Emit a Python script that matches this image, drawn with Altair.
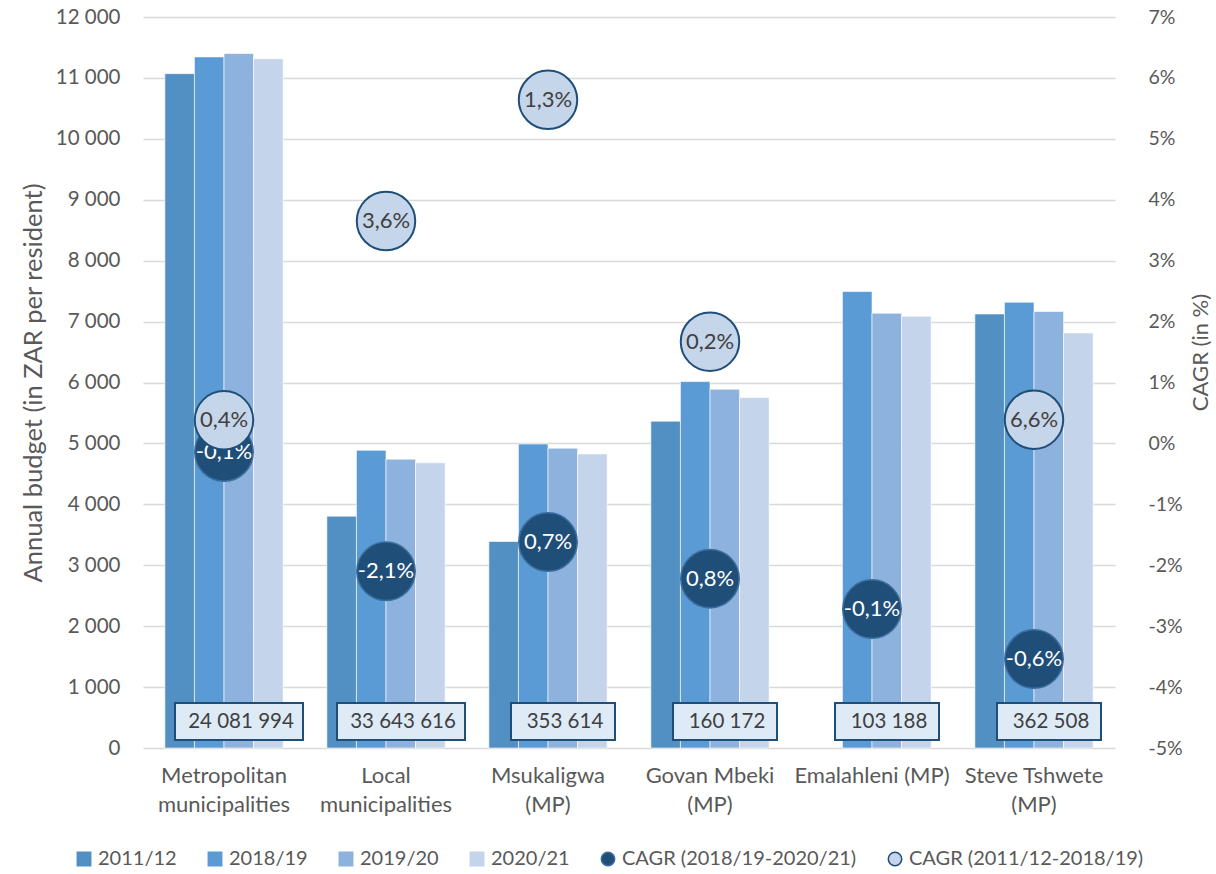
import altair as alt
import pandas as pd

# ---------------- data ----------------
categories = ["Metropolitan|municipalities", "Local|municipalities", "Msukaligwa|(MP)",
              "Govan Mbeki|(MP)", "Emalahleni (MP)", "Steve Tshwete|(MP)"]
years = ["2011/12", "2018/19", "2019/20", "2020/21"]
budget_2011 = [11070, 3805, 3390, 5365, None, 7125]
budget_2018 = [11345, 4888, 4990, 6015, 7493, 7318]
budget_2019 = [11400, 4742, 4922, 5890, 7137, 7165]
budget_2020 = [11315, 4682, 4828, 5752, 7089, 6814]
population = [24081994, 33643616, 353614, 160172, 103188, 362508]

cagr_recent_name = "CAGR (2018/19-2020/21)"
cagr_long_name = "CAGR (2011/12-2018/19)"
cagr_recent_pos = [-0.14, -2.1, -1.62, -2.22, -2.72, -3.54]
cagr_recent_label = ["-0,1%", "-2,1%", "0,7%", "0,8%", "-0,1%", "-0,6%"]
cagr_long_pos = [0.38, 3.65, 5.64, 1.67, None, 0.39]
cagr_long_label = ["0,4%", "3,6%", "1,3%", "0,2%", None, "6,6%"]

series = years + [cagr_recent_name, cagr_long_name]
colors = ["#528FC3", "#5B9BD5", "#8DB2DD", "#C4D4EA", "#1F4E79", "#C5D5EA"]
strokes = ["#528FC3", "#5B9BD5", "#8DB2DD", "#C4D4EA", "#3A6E9E", "#1F4E79"]
shapes = ["square", "square", "square", "square", "circle", "circle"]

# ---------------- tables ----------------
rows = []
for yr, vals in zip(years, [budget_2011, budget_2018, budget_2019, budget_2020]):
    for c, v in zip(categories, vals):
        if v is not None:
            rows.append({"category": c, "series": yr, "value": v})
bars_df = pd.DataFrame(rows)

pop_df = pd.DataFrame({
    "category": categories,
    "pop": population,
    "label": [f"{p:,}".replace(",", " ") for p in population],
    "wide": [len(str(p)) > 6 for p in population],
})

recent_df = pd.DataFrame({"category": categories, "pos": cagr_recent_pos,
                          "label": cagr_recent_label, "series": cagr_recent_name})
long_df = pd.DataFrame({"category": categories, "pos": cagr_long_pos,
                        "label": cagr_long_label, "series": cagr_long_name}).dropna()

FONT = "Lato"
GRAY = "#595959"

x_enc = alt.X("category:N", sort=categories,
              scale=alt.Scale(domain=categories, paddingInner=0.27, paddingOuter=0.135),
              axis=alt.Axis(title=None, labelExpr="split(datum.label, '|')",
                            labelFontSize=22, labelColor=GRAY, labelPadding=17,
                            labelLineHeight=29, labelAngle=0, domain=False, ticks=False,
                            labelFont=FONT, labelLimit=0))

left_axis = alt.Axis(title="Annual budget (in ZAR per resident)",
                     values=list(range(0, 12001, 1000)),
                     labelExpr="replace(format(datum.value, ','), ',', ' ')",
                     grid=True, gridColor="#D9D9D9", gridWidth=1.5,
                     labelFontSize=20.5, labelColor=GRAY, labelPadding=23,
                     titleFontSize=25.5, titleColor=GRAY, titleFontWeight="normal",
                     titlePadding=9, domain=False, ticks=False,
                     labelFont=FONT, titleFont=FONT)
left_scale = alt.Scale(domain=[0, 12000], nice=False, zero=True)

color_enc = alt.Color("series:N", scale=alt.Scale(domain=series, range=colors),
                      legend=alt.Legend(title=None, orient="none", direction="horizontal",
                                        legendX=-69, legendY=832, columns=6,
                                        labelFontSize=20, labelColor=GRAY, labelFont=FONT,
                                        labelLimit=0, symbolSize=180, columnPadding=28,
                                        symbolStrokeWidth=1.5, labelOffset=4))
shape_enc = alt.Shape("series:N", scale=alt.Scale(domain=series, range=shapes), legend=None)
stroke_enc = alt.Stroke("series:N", scale=alt.Scale(domain=series, range=strokes), legend=None)

bars = alt.Chart(bars_df).mark_bar(stroke="#FFFFFF", strokeWidth=1, strokeOpacity=0.6).encode(
    x=x_enc,
    xOffset=alt.XOffset("series:N", sort=years, scale=alt.Scale(domain=years, paddingInner=0)),
    y=alt.Y("value:Q", scale=left_scale, axis=left_axis),
    color=color_enc,
)

box_big = alt.Chart(pop_df).transform_filter("datum.wide").mark_bar(
    width=128, xOffset=15, fill="#DEEBF7", stroke="#1F4E79", strokeWidth=2
).encode(x=x_enc, y=alt.Y(datum=130, scale=left_scale, axis=left_axis), y2=alt.datum(740))

box_small = alt.Chart(pop_df).transform_filter("!datum.wide").mark_bar(
    width=104, xOffset=15, fill="#DEEBF7", stroke="#1F4E79", strokeWidth=2
).encode(x=x_enc, y=alt.Y(datum=130, scale=left_scale, axis=left_axis), y2=alt.datum(740))

box_text = alt.Chart(pop_df).mark_text(
    font=FONT, fontSize=20.5, color="#404040", dx=17, baseline="middle"
).encode(x=x_enc, y=alt.Y(datum=435, scale=left_scale, axis=left_axis), text="label:N")

right_y = alt.Y("pos:Q", scale=alt.Scale(domain=[-5, 7], nice=False),
                axis=alt.Axis(orient="right", title="CAGR (in %)",
                              values=list(range(-5, 8)), labelExpr="datum.value + '%'",
                              grid=False, domain=False, ticks=False,
                              labelFontSize=19.5, labelColor=GRAY, labelPadding=33,
                              titleFontSize=22, titleColor=GRAY, titleFontWeight="normal",
                              titleAngle=270, titleBaseline="top", titleY=335,
                              titlePadding=8, labelFont=FONT, titleFont=FONT))

dark_pts = alt.Chart(recent_df).mark_point(filled=True, size=3420, strokeWidth=1.5, opacity=1).encode(
    x=x_enc, y=right_y, color=color_enc, shape=shape_enc, stroke=stroke_enc)
dark_txt = alt.Chart(recent_df).mark_text(font=FONT, fontSize=22, color="#FFFFFF").encode(
    x=x_enc, y=right_y, text="label:N")
light_pts = alt.Chart(long_df).mark_point(filled=True, size=3420, strokeWidth=2, opacity=1).encode(
    x=x_enc, y=right_y, color=color_enc, shape=shape_enc, stroke=stroke_enc)
light_txt = alt.Chart(long_df).mark_text(font=FONT, fontSize=22, color="#404040").encode(
    x=x_enc, y=right_y, text="label:N")

left = alt.layer(bars, box_big, box_small, box_text)
right = alt.layer(dark_pts, dark_txt, light_pts, light_txt)

chart = alt.layer(left, right).resolve_scale(y="independent").properties(
    width=972, height=731,
    autosize=alt.AutoSizeParams(type="none"),
    padding={"left": 143, "top": 17, "right": 101, "bottom": 126},
).configure(font=FONT).configure_view(stroke=None)

chart.save("out.html", embed_options={"renderer": "svg", "actions": False})
